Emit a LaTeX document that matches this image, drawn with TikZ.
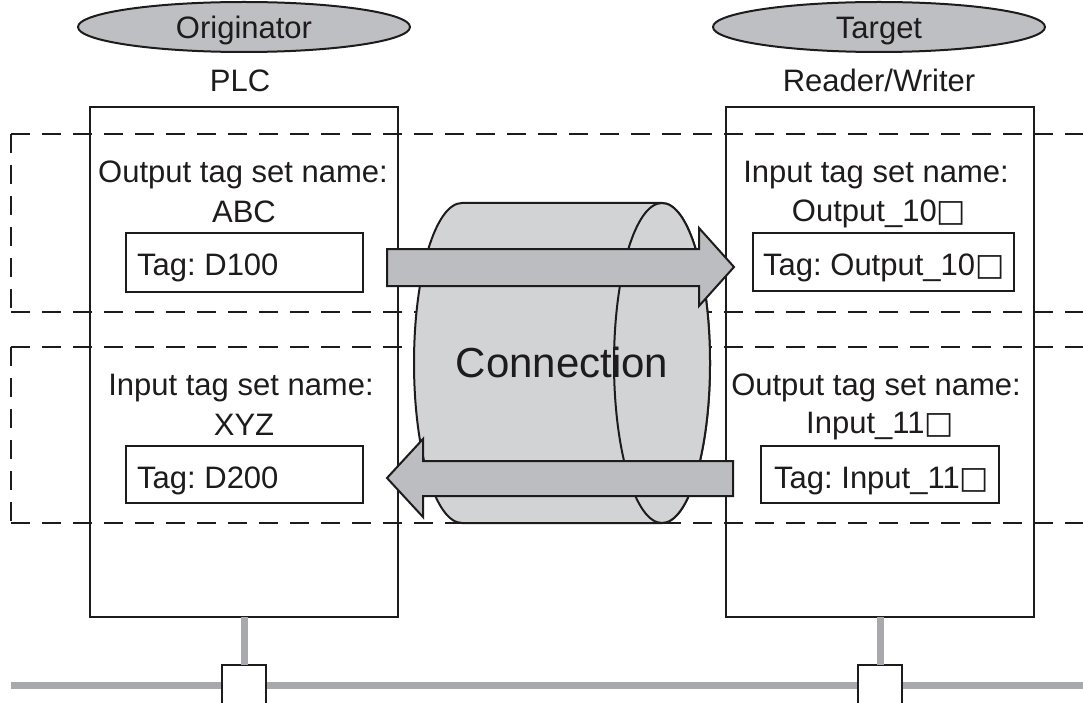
\documentclass[tikz,border=0pt]{standalone}
\usepackage{fontspec}
\setmainfont{Liberation Sans}
\newfontfamily\symfont{DejaVu Sans}
\newcommand{\wsq}{{\symfont □}}
\frenchspacing
\usetikzlibrary{shapes.geometric}
\definecolor{ovalgray}{RGB}{190,191,194}
\definecolor{cylgray}{RGB}{210,211,213}
\definecolor{arrgray}{RGB}{188,189,192}
\definecolor{busgray}{RGB}{168,169,172}
\definecolor{ink}{RGB}{30,27,28}
\begin{document}
\begin{tikzpicture}[x=1pt,y=-1pt,
  lbl/.style={font=\fontsize{31}{36}\selectfont, inner sep=0pt, anchor=base, text=ink},
  taglbl/.style={lbl, anchor=base west},
  oval/.style={ellipse, draw=ink, line width=2pt, fill=ovalgray, inner sep=0pt,
               minimum width=332pt, minimum height=50pt},
  device/.style={draw=ink, line width=2.4pt, inner sep=0pt, outer sep=0pt, anchor=north west,
                 minimum width=308pt, minimum height=510pt},
  tagbox/.style={draw=ink, line width=2.6pt, fill=white, inner sep=0pt, outer sep=0pt, anchor=north west},
  port/.style={draw=ink, line width=2.6pt, fill=white, inner sep=0pt, outer sep=0pt, anchor=north,
               minimum width=44pt, minimum height=50pt},
  dashline/.style={draw=ink, line width=2.2pt, dash pattern=on 19pt off 12pt},
  gline/.style={draw=busgray, line width=7pt},
  bigarrow/.style={draw=ink, line width=2pt, fill=arrgray, line join=miter},
  cyl/.style={draw=ink, line width=2pt, fill=cylgray}
]
\useasboundingbox (0,0) rectangle (1083,703);

% dashed groups
\draw[dashline] (11,134) -- (1083,134);
\draw[dashline] (11,312) -- (1083,312);
\draw[dashline] (11,134) -- (11,312);
\draw[dashline] (11,347) -- (1083,347);
\draw[dashline] (11,523) -- (1083,523);
\draw[dashline] (11,347) -- (11,523);

% devices
\node[device] (plc) at (90,107) {};
\node[device] (rw) at (726,107) {};

% ovals and titles
\node[oval] (orig) at (244,27) {};
\node[lbl] (origtxt) at (244,39) {Originator};
\node[oval] (targ) at (879,27) {};
\node[lbl] (targtxt) at (879,39) {Target};
\node[lbl] (plcname) at (240,92) {PLC};
\node[lbl] (rwname) at (879,92) {Reader/Writer};

% connection cylinder
\path[cyl] (662,203) -- (462,203)
  arc[start angle=90, end angle=270, x radius=48pt, y radius=160pt]
  -- (662,523)
  arc[start angle=-90, end angle=90, x radius=48pt, y radius=160pt] -- cycle;
\draw[cyl] (662,363) ellipse [x radius=48pt, y radius=160pt];
\node[font=\fontsize{42}{50}\selectfont, text=ink, inner sep=0pt, anchor=base] (conn) at (562,377) {Connection};

% data arrows
\path[bigarrow] (387,249) -- (699,249) -- (699,228) -- (734,267) -- (699,306) -- (699,286) -- (387,286) -- cycle;
\path[bigarrow] (733,461) -- (423,461) -- (423,439) -- (387,478) -- (423,517) -- (423,496) -- (733,496) -- cycle;

% PLC contents
\node[lbl] (plcout) at (243,183) {Output tag set name:};
\node[lbl] (plcoutn) at (244,223) {ABC};
\node[tagbox, minimum width=237pt, minimum height=59pt] (tag1) at (126,233) {};
\node[taglbl] (tag1txt) at (137,275) {Tag: D100};
\node[lbl] (plcin) at (241,395) {Input tag set name:};
\node[lbl] (plcinn) at (244,435) {XYZ};
\node[tagbox, minimum width=237pt, minimum height=57pt] (tag2) at (126,446) {};
\node[taglbl] (tag2txt) at (137,488) {Tag: D200};

% Reader/Writer contents
\node[lbl] (rwin) at (876,183) {Input tag set name:};
\node[lbl] (rwinn) at (879,222) {Output\_10\wsq};
\node[tagbox, minimum width=261pt, minimum height=58pt] (tag3) at (753,233) {};
\node[taglbl] (tag3txt) at (763,275) {Tag: Output\_10\wsq};
\node[lbl] (rwout) at (876,395) {Output tag set name:};
\node[lbl] (rwoutn) at (880,433) {Input\_11\wsq};
\node[tagbox, minimum width=238pt, minimum height=57pt] (tag4) at (761,446) {};
\node[taglbl] (tag4txt) at (774,488) {Tag: Input\_11\wsq};

% network
\coordinate (busL) at (11,685.5);
\coordinate (busR) at (1083,685.5);
\draw[gline] (busL) -- (busR);
\node[port] (p1) at (244,665) {};
\node[port] (p2) at (880,665) {};
\draw[gline] (plc.south) -- (p1.north);
\draw[gline] (rw.south) -- (p2.north);
\end{tikzpicture}
\end{document}
